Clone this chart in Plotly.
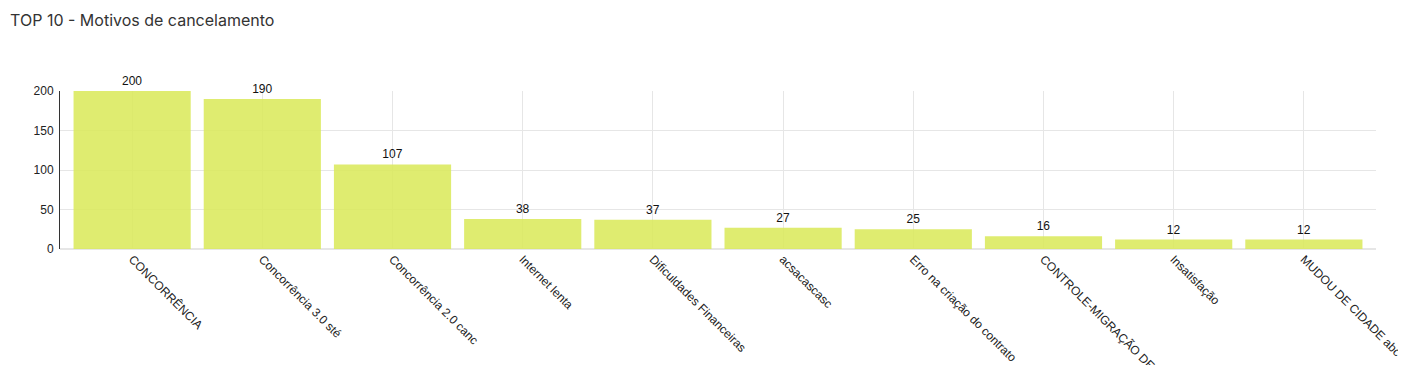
import plotly.graph_objects as go

categories = [
    "CONCORRÊNCIA",
    "Concorrência 3.0 sté",
    "Concorrência 2.0 canc",
    "Internet lenta",
    "Dificuldades Financeiras",
    "acsacascasc",
    "Erro na criação do contrato",
    "CONTROLE-MIGRAÇÃO DE PLANO",
    "Insatisfação",
    "MUDOU DE CIDADE abc",
]
values = [200, 190, 107, 38, 37, 27, 25, 16, 12, 12]
y_ticks = [0, 50, 100, 150, 200]

fig = go.Figure(
    go.Bar(
        x=categories,
        y=values,
        text=[str(v) for v in values],
        textposition="outside",
        textfont=dict(family="Liberation Sans, Arial, sans-serif", size=12, color="#111"),
        cliponaxis=False,
        marker=dict(color="rgba(217,233,87,0.85)", line=dict(width=0)),
        hoverinfo="x+y",
    )
)

fig.update_layout(
    width=1406,
    height=365,
    margin=dict(l=52, r=38, t=83, b=124, pad=0),
    paper_bgcolor="white",
    plot_bgcolor="white",
    bargap=0.1,
    showlegend=False,
    title=dict(
        text="TOP 10 - Motivos de cancelamento",
        x=0.0015,
        xanchor="left",
        y=0.967,
        yanchor="middle",
        font=dict(family="Inter, Roboto, sans-serif", size=16, color="#333"),
    ),
    font=dict(family="Liberation Sans, Arial, sans-serif", size=12, color="#222"),
    xaxis=dict(
        type="category",
        range=[-0.554, 9.554],
        tickangle=45,
        showgrid=True,
        gridcolor="#e6e6e6",
        gridwidth=1,
        showline=False,
        ticks="",
        automargin=False,
        tickfont=dict(family="Liberation Sans, Arial, sans-serif", size=12, color="#222"),
    ),
    yaxis=dict(
        range=[0, 200],
        tickvals=y_ticks,
        showgrid=True,
        gridcolor="#e6e6e6",
        gridwidth=1,
        zeroline=True,
        zerolinecolor="#e6e6e6",
        showline=True,
        linecolor="#333",
        linewidth=1,
        ticks="",
        ticklabelstandoff=3,
        automargin=False,
        tickfont=dict(family="Liberation Sans, Arial, sans-serif", size=12, color="#222"),
    ),
)

fig.write_html("out.html")
